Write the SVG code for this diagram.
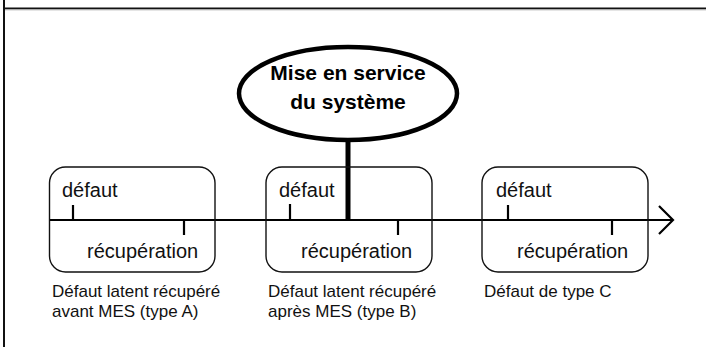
<svg xmlns="http://www.w3.org/2000/svg" width="706" height="347" viewBox="0 0 706 347">
  <style>
    .frame { stroke: #111; stroke-width: 2; fill: none; }
    .box { fill: none; stroke: #111; stroke-width: 1.4; }
    .axis { stroke: #000; stroke-width: 2.2; fill: none; }
    .tick { stroke: #000; stroke-width: 2.2; }
    .lbl { font-family: "Liberation Sans", Arial, sans-serif; font-size: 20px; fill: #111; }
    .cap { font-family: "Liberation Sans", Arial, sans-serif; font-size: 17px; fill: #111; }
    .title { font-family: "Liberation Sans", Arial, sans-serif; font-size: 21px; font-weight: bold; fill: #000; text-anchor: middle; }
  </style>

  <!-- page frame -->
  <g id="frame">
    <line class="frame" x1="4" y1="8.5" x2="706" y2="8.5"/>
    <line x1="4" y1="10" x2="706" y2="10" stroke="#ccc" stroke-width="1"/>
    <line class="frame" x1="4" y1="0" x2="4" y2="347"/>
  </g>

  <!-- time axis and its links -->
  <g id="connectors">
    <line class="axis" x1="50" y1="220" x2="672" y2="220"/>
    <polyline class="axis" points="659,206 673,220 659,234"/>
    <line x1="348" y1="142" x2="348" y2="221" stroke="#000" stroke-width="5"/>
  </g>

  <g id="mes">
    <ellipse cx="348" cy="93.5" rx="109" ry="46.5" fill="#fff" stroke="#000" stroke-width="4.5"/>
    <text class="title" x="348" y="80">Mise en service</text>
    <text class="title" x="348" y="109">du système</text>
  </g>

  <g id="typeA">
    <rect class="box" x="49.5" y="167" width="165.5" height="105" rx="16"/>
    <line class="tick" x1="73" y1="205" x2="73" y2="220"/>
    <line class="tick" x1="184" y1="220" x2="184" y2="235"/>
    <text class="lbl" x="62" y="197">défaut</text>
    <text class="lbl" x="87" y="258">récupération</text>
    <text class="cap" x="52" y="297">Défaut latent récupéré</text>
    <text class="cap" x="52" y="317">avant MES (type A)</text>
  </g>

  <g id="typeB">
    <rect class="box" x="266" y="167" width="166" height="105" rx="16"/>
    <line class="tick" x1="290" y1="204" x2="290" y2="220"/>
    <line class="tick" x1="398" y1="220" x2="398" y2="235"/>
    <text class="lbl" x="279" y="197">défaut</text>
    <text class="lbl" x="301" y="258">récupération</text>
    <text class="cap" x="268" y="297">Défaut latent récupéré</text>
    <text class="cap" x="268" y="317">après MES (type B)</text>
  </g>

  <g id="typeC">
    <rect class="box" x="482" y="167" width="166" height="105" rx="16"/>
    <line class="tick" x1="508" y1="205" x2="508" y2="220"/>
    <line class="tick" x1="612" y1="220" x2="612" y2="235"/>
    <text class="lbl" x="496" y="197">défaut</text>
    <text class="lbl" x="517" y="258">récupération</text>
    <text class="cap" x="484" y="297">Défaut de type C</text>
  </g>
</svg>
